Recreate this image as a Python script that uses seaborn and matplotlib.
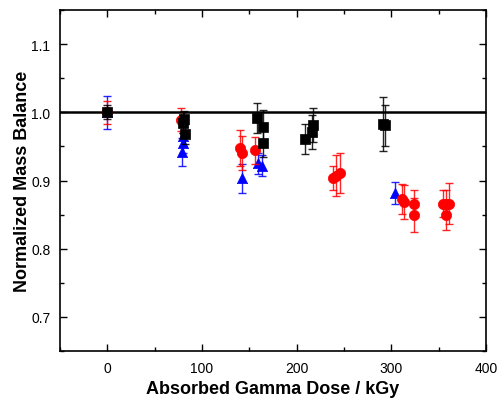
#!/usr/bin/env python3

# Normalized mass balance vs absorbed gamma dose

import matplotlib
matplotlib.use("Agg")
import matplotlib.pyplot as plt
import seaborn as sns
import pandas as pd
from matplotlib.ticker import MultipleLocator

# blue triangles
blue_dose = [0, 80, 80, 79, 142, 159, 163, 304]
blue_bal = [1.0, 0.965, 0.955, 0.942, 0.903, 0.925, 0.922, 0.882]
blue_err = [0.024, 0.015, 0.015, 0.02, 0.021, 0.015, 0.015, 0.016]

# red circles
red_dose = [0, 78, 140, 142, 156, 238, 242, 246, 311, 313, 324, 324, 354, 358, 361, 358]
red_bal = [1.0, 0.989, 0.948, 0.940, 0.944, 0.904, 0.907, 0.911,
           0.873, 0.869, 0.866, 0.850, 0.866, 0.866, 0.866, 0.850]
red_err = [0.017, 0.017, 0.026, 0.025, 0.02, 0.018, 0.03, 0.03,
           0.022, 0.025, 0.02, 0.025, 0.02, 0.02, 0.03, 0.022]

# black squares
black_dose = [0, 80, 81, 82, 158, 164, 164, 209, 216, 217, 291, 293]
black_bal = [1.0, 0.985, 0.99, 0.968, 0.992, 0.978, 0.955, 0.961, 0.971, 0.981, 0.983, 0.981]
black_err = [0.01, 0.015, 0.012, 0.015, 0.022, 0.025, 0.02, 0.022, 0.025, 0.025, 0.04, 0.03]

rows = []
for name, d, b, e in [("blue", blue_dose, blue_bal, blue_err),
                      ("red", red_dose, red_bal, red_err),
                      ("black", black_dose, black_bal, black_err)]:
    for x, y, err in zip(d, b, e):
        rows.append({"Dose": x, "Balance": y, "Err": err, "Series": name})
df = pd.DataFrame(rows)

colors = {"blue": "#0000FF", "red": "#FF0000", "black": "#000000"}
markers = {"blue": "^", "red": "o", "black": "s"}

sns.set_style("ticks")
plt.rcParams["font.family"] = ["Liberation Sans", "DejaVu Sans"]
plt.rcParams["xtick.direction"] = "in"
plt.rcParams["ytick.direction"] = "in"
plt.rcParams["text.color"] = "black"
plt.rcParams["axes.labelcolor"] = "black"
plt.rcParams["xtick.color"] = "black"
plt.rcParams["ytick.color"] = "black"


def main():
    fig = plt.figure(figsize=(4.97, 4.02), dpi=100)
    ax = fig.add_axes([0.1207, 0.1244, 0.8573, 0.8482])

    ax.axhline(1.0, color="black", lw=1.8, zorder=1)

    for i, name in enumerate(["blue", "red", "black"]):
        sub = df[df["Series"] == name]
        ax.errorbar(sub["Dose"], sub["Balance"], yerr=sub["Err"], fmt="none",
                    ecolor=colors[name], elinewidth=1, capsize=3, capthick=1,
                    alpha=0.85, zorder=2 + i)
        sns.scatterplot(data=sub, x="Dose", y="Balance", marker=markers[name],
                        color=colors[name], s=55, edgecolor=colors[name],
                        linewidth=0.5, ax=ax, zorder=3 + i, legend=False)

    ax.set_xlim(-50, 400)
    ax.set_ylim(0.65, 1.15)
    ax.xaxis.set_major_locator(MultipleLocator(100))
    ax.xaxis.set_minor_locator(MultipleLocator(50))
    ax.yaxis.set_major_locator(MultipleLocator(0.1))
    ax.yaxis.set_minor_locator(MultipleLocator(0.05))
    ax.yaxis.set_major_formatter(plt.FormatStrFormatter("%.1f"))
    ax.tick_params(which="both", top=True, right=True, labeltop=False,
                   labelright=False, labelsize=10, colors="black")
    ax.tick_params(which="major", length=5, width=1, pad=7)
    ax.tick_params(which="minor", length=3, width=1)
    for s in ax.spines.values():
        s.set_linewidth(1.2)
        s.set_color("black")

    ax.set_xlabel("Absorbed Gamma Dose / kGy", fontsize=13, fontweight="bold",
                  labelpad=4)
    ax.set_ylabel("Normalized Mass Balance", fontsize=13, fontweight="bold",
                  labelpad=0)

    fig.savefig("out.png", dpi=100)


if __name__ == "__main__":
    main()
